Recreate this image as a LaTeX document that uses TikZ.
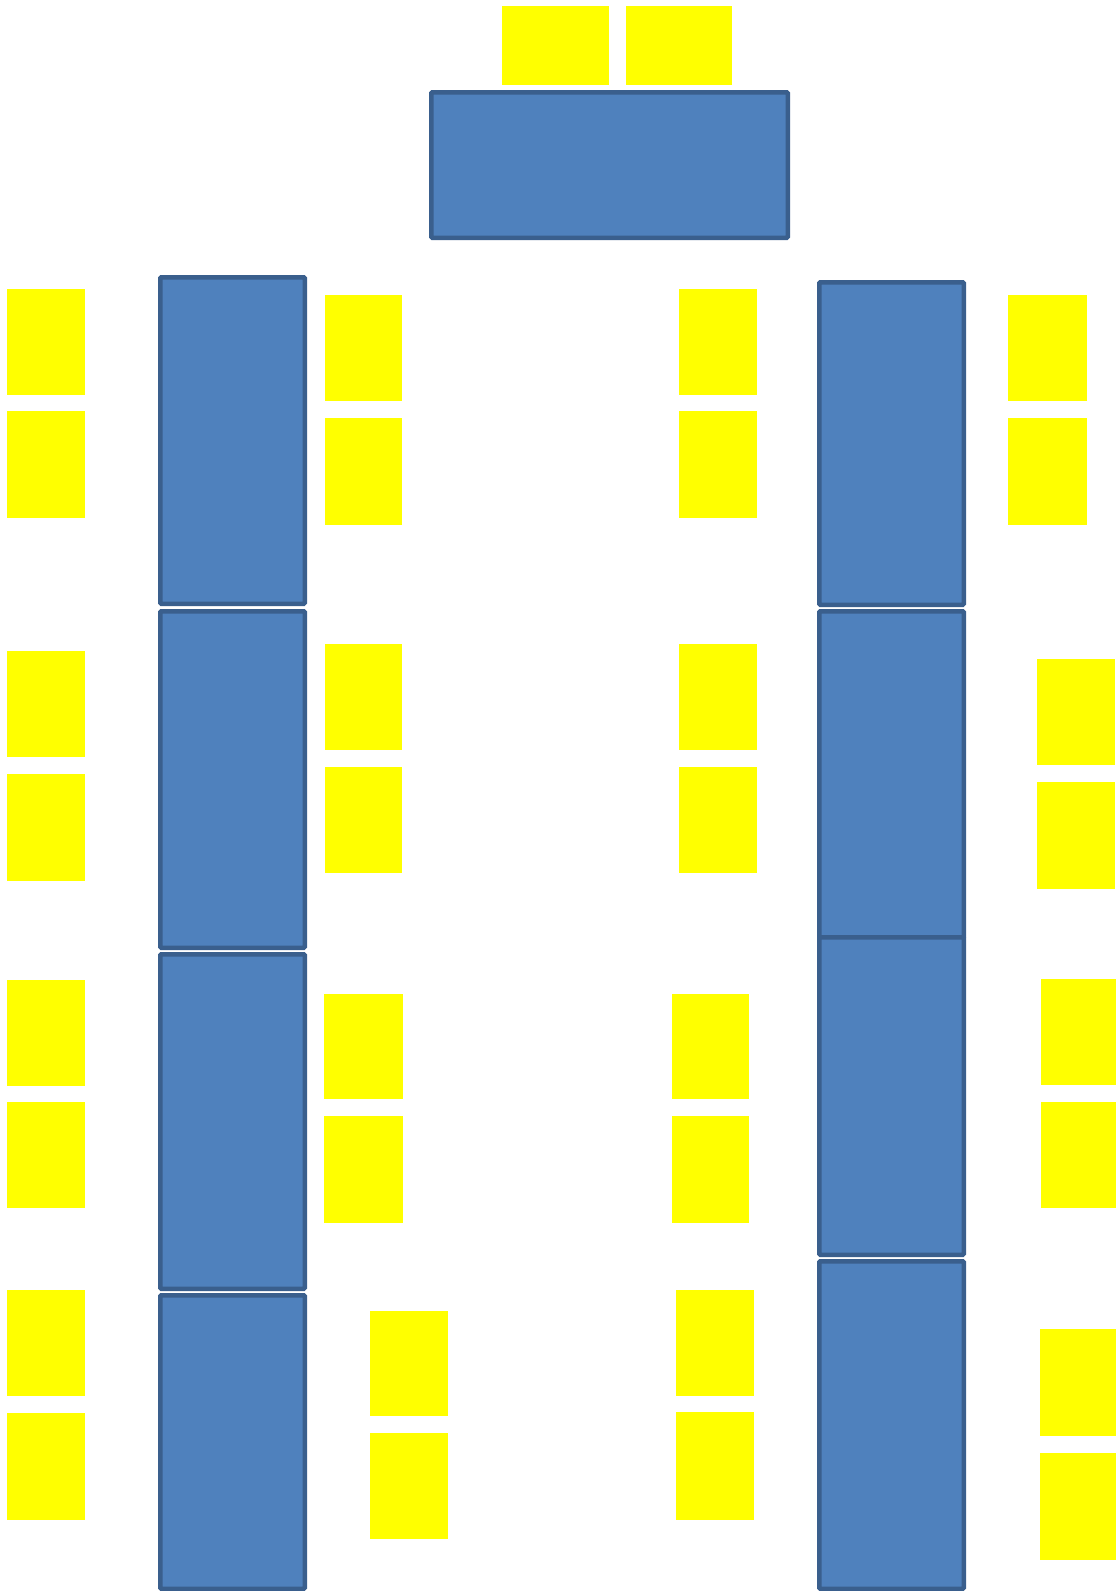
\documentclass[tikz,border=0pt]{standalone}
\definecolor{deskfill}{HTML}{4F81BD}
\definecolor{deskline}{HTML}{3A5F8D}
\definecolor{seatfill}{HTML}{FFFF00}
\tikzset{
  desk/.style={fill=deskfill, draw=deskline, line width=4.5pt, rounded corners=1pt},
  seat/.style={fill=seatfill, draw=none}
}
\newcommand{\deskbox}[4]{\path[desk] (#1+2.25,#2+2.25) rectangle (#3-2.25,#4-2.25);}
\newcommand{\seatbox}[4]{\path[seat] (#1,#2) rectangle (#3,#4);}
\begin{document}
\begin{tikzpicture}[x=1pt,y=-1pt]
\useasboundingbox[fill=white] (0,0) rectangle (1116,1591);
% teacher seats and desk
\seatbox{502}{6}{609}{85}
\seatbox{626}{6}{732}{85}
\deskbox{429}{90}{790}{240}
% left column of desks
\deskbox{158}{275}{307}{606}
\deskbox{158}{609}{307}{950}
\deskbox{158}{952}{307}{1291}
\deskbox{158}{1293}{307}{1591}
% right column of desks
\deskbox{817}{280}{966}{607}
\deskbox{817}{609}{966}{940}
\deskbox{817}{935}{966}{1257}
\deskbox{817}{1259}{966}{1591}
% far left seats
\seatbox{7}{289}{85}{395}
\seatbox{7}{411}{85}{518}
\seatbox{7}{651}{85}{757}
\seatbox{7}{774}{85}{881}
\seatbox{7}{980}{85}{1086}
\seatbox{7}{1102}{85}{1208}
\seatbox{7}{1290}{85}{1396}
\seatbox{7}{1413}{85}{1520}
% left inner seats
\seatbox{325}{295}{402}{401}
\seatbox{325}{418}{402}{525}
\seatbox{325}{644}{402}{750}
\seatbox{325}{767}{402}{873}
\seatbox{324}{994}{403}{1099}
\seatbox{324}{1116}{403}{1223}
\seatbox{370}{1311}{448}{1416}
\seatbox{370}{1433}{448}{1539}
% right inner seats
\seatbox{679}{289}{757}{395}
\seatbox{679}{411}{757}{518}
\seatbox{679}{644}{757}{750}
\seatbox{679}{767}{757}{873}
\seatbox{672}{994}{749}{1099}
\seatbox{672}{1116}{749}{1223}
\seatbox{676}{1290}{754}{1396}
\seatbox{676}{1412}{754}{1520}
% far right seats
\seatbox{1008}{295}{1087}{401}
\seatbox{1008}{418}{1087}{525}
\seatbox{1037}{659}{1115}{765}
\seatbox{1037}{782}{1115}{889}
\seatbox{1041}{979}{1116}{1085}
\seatbox{1041}{1102}{1116}{1208}
\seatbox{1040}{1329}{1116}{1436}
\seatbox{1040}{1453}{1116}{1560}
\end{tikzpicture}
\end{document}
